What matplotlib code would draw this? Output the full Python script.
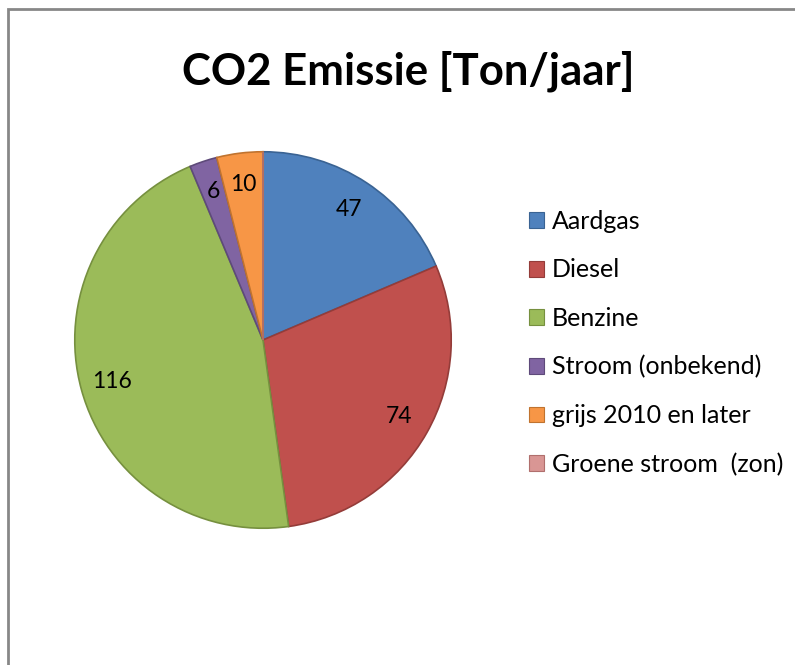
import matplotlib.pyplot as plt
from matplotlib.patches import Rectangle, Patch

# data
categories = ['Aardgas', 'Diesel', 'Benzine', 'Stroom (onbekend)',
              'grijs 2010 en later', 'Groene stroom  (zon)']
values = [47, 74, 116, 6, 10, 0]
colors = ['#4F81BD', '#C0504D', '#9BBB59', '#8064A2', '#F79646', '#D99694']
edge_colors = ['#3A6393', '#943C39', '#76903F', '#5E4A7A', '#C0732F', '#B06F6D']

plt.rcParams['font.family'] = ['Lato', 'DejaVu Sans']

fig = plt.figure(figsize=(7.95, 6.65), dpi=100)

# grey chart frame (only top/left edges visible in the crop)
fig.patches.append(Rectangle((8 / 795, -0.1), 1.2, 1 - 9.5 / 665 + 0.1,
                             transform=fig.transFigure, fill=False,
                             edgecolor='#878787', linewidth=2))

fig.text(408 / 795, 1 - 71 / 665, 'CO2 Emissie [Ton/jaar]', ha='center',
         va='center', fontsize=31.5, fontweight='bold')

# pie axes: centre ~ (263, 340) px, radius ~ 192 px
ax = fig.add_axes([(263 - 192) / 795, (665 - 340 - 192) / 665, 384 / 795, 384 / 665])
value_labels = [str(v) if v > 0 else '' for v in values]
wedges, texts = ax.pie(values, labels=value_labels, colors=colors,
                       startangle=90, counterclock=False, labeldistance=0.83,
                       wedgeprops=dict(linewidth=1.2),
                       textprops=dict(fontsize=16.5, ha='center', va='center'))
for w, ec in zip(wedges, edge_colors):
    w.set_edgecolor(ec)
ax.set_xlim(-1.02, 1.02)
ax.set_ylim(-1.02, 1.02)
ax.set_aspect('equal')
ax.axis('off')

handles = [Patch(facecolor=c, edgecolor=ec, linewidth=0.8)
           for c, ec in zip(colors, edge_colors)]
fig.legend(handles, categories, loc='center left',
           bbox_to_anchor=(529 / 795, 1 - 343 / 665), frameon=False,
           fontsize=18, handlelength=0.6, handleheight=0.6,
           handletextpad=0.3, labelspacing=1.02, borderpad=0,
           borderaxespad=0)

fig.savefig('out.png', dpi=100)
